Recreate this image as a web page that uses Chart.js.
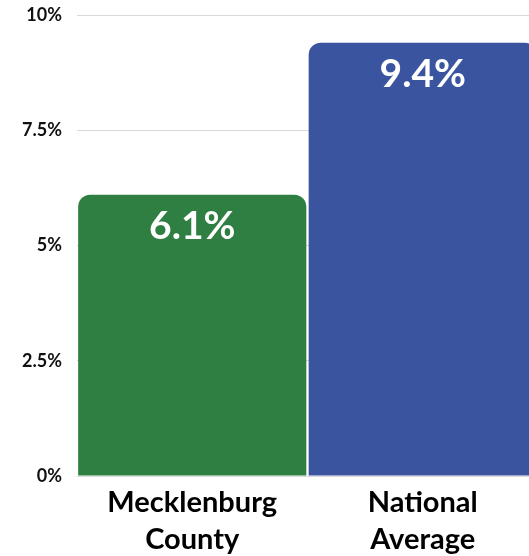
<!DOCTYPE html>
<html>
<head>
<meta charset="utf-8">
<script src="https://cdn.jsdelivr.net/npm/chart.js@4/dist/chart.umd.min.js"></script>
<style>
  html, body { margin: 0; padding: 0; overflow: hidden; background: #fff; }
  #wrap { position: relative; width: 540px; height: 556px; }
</style>
</head>
<body>
<div id="wrap"><canvas id="c"></canvas></div>
<script>
const categories = [["Mecklenburg", "County"], ["National", "Average"]];
const values = [6.1, 9.4];
const valueLabels = ["6.1%", "9.4%"];
const barColors = ["#2E7F41", "#3A54A0"];
const yTicks = [0, 2.5, 5, 7.5, 10];

const FONT = "Lato, 'Open Sans', sans-serif";

const valueLabelPlugin = {
  id: 'valueLabels',
  afterDatasetsDraw(chart) {
    const ctx = chart.ctx;
    const meta = chart.getDatasetMeta(0);
    ctx.save();
    ctx.fillStyle = '#ffffff';
    ctx.font = "bold 39px " + FONT;
    ctx.textAlign = 'center';
    ctx.textBaseline = 'middle';
    meta.data.forEach((bar, i) => {
      ctx.fillText(valueLabels[i], bar.x, bar.y + 32);
    });
    ctx.restore();
  }
};

new Chart(document.getElementById('c'), {
  type: 'bar',
  data: {
    labels: categories,
    datasets: [{
      data: values,
      backgroundColor: barColors,
      borderWidth: 0,
      borderRadius: { topLeft: 12, topRight: 12, bottomLeft: 0, bottomRight: 0 },
      borderSkipped: 'bottom',
      barPercentage: 0.99,
      categoryPercentage: 1.0
    }]
  },
  options: {
    responsive: true,
    maintainAspectRatio: false,
    animation: false,
    layout: { padding: { top: 15, right: 2, left: 0, bottom: 0 } },
    plugins: { legend: { display: false }, tooltip: { enabled: false } },
    scales: {
      x: {
        grid: { display: false },
        border: { display: false },
        ticks: {
          color: '#000',
          font: { family: FONT, size: 29, weight: 'bold', lineHeight: 1.276 },
          padding: 0,
          maxRotation: 0,
          autoSkip: false
        },
        afterFit(scale) { scale.height = 80; scale.paddingLeft = 0; scale.paddingRight = 0; }
      },
      y: {
        min: 0,
        max: 10,
        afterBuildTicks(scale) { scale.ticks = yTicks.map(v => ({ value: v })); },
        grid: { color: '#d9d9d9', drawTicks: false, lineWidth: 1 },
        border: { display: false },
        ticks: {
          color: '#111',
          font: { family: FONT, size: 18, weight: 'bold' },
          padding: 15,
          callback: v => v + '%'
        },
        afterFit(scale) { scale.width = 77; scale.paddingTop = 0; scale.paddingBottom = 0; }
      }
    }
  },
  plugins: [valueLabelPlugin]
});
</script>
</body>
</html>
